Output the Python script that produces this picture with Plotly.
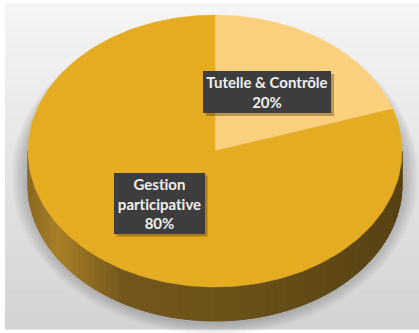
import numpy as np
import plotly.graph_objects as go

# ---- data ----
labels = ["Tutelle & Contrôle", "Gestion participative"]
values = [20, 80]
slice_colors = ["#fbd07f", "#e5ac22"]
label_texts = ["Tutelle & Contrôle<br>20%", "Gestion<br>participative<br>80%"]

W, H = 419, 333
cx, cy, a, b = 215, 151, 187, 136   # ellipse in pixel-like axis units
depth = 34

fig = go.Figure()

# background gradient
shapes = []
nb = 40
for i in range(nb):
    y0 = 3 + (326) * i / nb
    y1 = 3 + (326) * (i + 1) / nb
    t = i / (nb - 1)
    c = int(245 - t * (245 - 212))
    shapes.append(dict(type="rect", xref="x", yref="y", x0=5, x1=W, y0=y0, y1=y1 + 0.5,
                       fillcolor=f"rgb({c},{c},{c})", line=dict(width=0), layer="below"))

# soft shadow under pie
for k in range(8):
    g = 6 + k * 3
    shapes.append(dict(type="circle", xref="x", yref="y",
                       x0=cx - a - g * 0.6, x1=cx + a + g * 0.6,
                       y0=cy - b + 10 - g * 0.3, y1=cy + b + depth + g * 0.5,
                       fillcolor="rgba(90,90,90,0.05)", line=dict(width=0), layer="below"))


def ell(theta):
    # theta measured clockwise from 12 o'clock, in radians
    return cx + a * np.sin(theta), cy - b * np.cos(theta)


# side band (front half), gradient by x
def side_color(x):
    u = (x - (cx - a)) / (2 * a)
    stops = [(0.0, (140, 105, 35)), (0.08, (170, 128, 40)), (0.25, (118, 88, 28)),
             (0.6, (105, 80, 24)), (1.0, (88, 66, 20))]
    for (u0, c0), (u1, c1) in zip(stops[:-1], stops[1:]):
        if u <= u1:
            f = (u - u0) / (u1 - u0) if u1 > u0 else 0
            return tuple(int(c0[j] + f * (c1[j] - c0[j])) for j in range(3))
    return stops[-1][1]


ns = 80
th = np.linspace(np.pi / 2, 3 * np.pi / 2, ns + 1)
for i in range(ns):
    t0, t1 = th[i], th[i + 1]
    x0, y0 = ell(t0)
    x1, y1 = ell(t1)
    col = "rgb(%d,%d,%d)" % side_color((x0 + x1) / 2)
    fig.add_trace(go.Scatter(x=[x0, x1, x1, x0, x0], y=[y0, y1, y1 + depth, y0 + depth, y0],
                             mode="lines", fill="toself", fillcolor=col,
                             line=dict(color=col, width=1), hoverinfo="skip", showlegend=False))

# top slices
total = sum(values)
start = 0.0
for lab, v, col in zip(labels, values, slice_colors):
    span = 2 * np.pi * v / total
    tt = np.linspace(start, start + span, 200)
    xs, ys = ell(tt)
    xs = np.concatenate([[cx], xs, [cx]])
    ys = np.concatenate([[cy], ys, [cy]])
    fig.add_trace(go.Scatter(x=xs, y=ys, mode="lines", fill="toself", fillcolor=col,
                             line=dict(color=col, width=0.5), name=lab,
                             hoverinfo="name", showlegend=False))
    start += span

# label boxes
boxes = [(267, 92, 128, 42), (159, 203, 91, 61)]
for (bx, by, bw, bh), txt in zip(boxes, label_texts):
    shapes.append(dict(type="rect", xref="x", yref="y", x0=bx - bw / 2 + 3, x1=bx + bw / 2 + 3,
                       y0=by - bh / 2 + 3, y1=by + bh / 2 + 3,
                       fillcolor="rgba(60,40,0,0.35)", line=dict(width=0), layer="above"))
    fig.add_annotation(x=bx, y=by, xref="x", yref="y", text="<b>%s</b>" % txt,
                       showarrow=False, width=bw, height=bh, bgcolor="#3d3d3d",
                       borderpad=0, borderwidth=0,
                       font=dict(family="Lato", size=15, color="#f0f0f0"), align="center",
                       valign="middle")

fig.update_layout(
    width=W, height=H, margin=dict(l=0, r=0, t=0, b=0),
    paper_bgcolor="white", plot_bgcolor="white",
    xaxis=dict(range=[0, W], visible=False, fixedrange=True),
    yaxis=dict(range=[H, 0], visible=False, fixedrange=True),
    shapes=shapes, showlegend=False,
)
fig.write_html(
    "out.html", config={"displayModeBar": False},
    post_script=(
        "document.body.style.margin='0';document.body.style.overflow='hidden';"
        "document.querySelectorAll('text').forEach(function(t){"
        "t.style.fontVariantLigatures='none';t.style.fontFeatureSettings='\"liga\" 0';});"
    ),
)
